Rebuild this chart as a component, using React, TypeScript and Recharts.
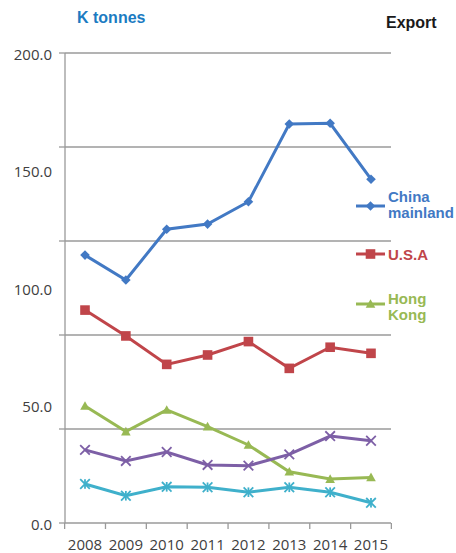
import { CartesianGrid, Legend, Line, LineChart, XAxis, YAxis } from "recharts";

const years = ["2008", "2009", "2010", "2011", "2012", "2013", "2014", "2015"];
const chinaMainland = [114.0, 103.4, 125.0, 127.2, 136.7, 169.8, 170.1, 146.3];
const usa = [90.6, 79.6, 67.5, 71.5, 77.2, 65.8, 74.8, 72.2];
const hongKong = [49.8, 38.9, 48.1, 41.0, 33.2, 21.8, 18.7, 19.4];
const seriesD = [31.1, 26.4, 30.2, 24.7, 24.4, 29.2, 37.0, 35.0];
const seriesE = [16.6, 11.6, 15.4, 15.2, 13.1, 15.2, 13.1, 8.6];

const labelTicks = [0, 50, 100, 150, 200];
const gridTicks = [0, 40, 80, 120, 160, 200];
const legendNames = ["China mainland", "U.S.A", "Hong Kong"];

const data = years.map((year, i) => ({
  year,
  china: chinaMainland[i],
  usa: usa[i],
  hk: hongKong[i],
  d: seriesD[i],
  e: seriesE[i],
}));

const W = 456;
const H = 553;
const PLOT_LEFT = 65;
const PLOT_RIGHT = 391;
const HALF_BAND = (PLOT_RIGHT - PLOT_LEFT) / years.length / 2;
const AXIS_GRAY = "#9a9a9a";
const TICK_FONT = "'Open Sans', sans-serif";
const BOLD_FONT = "'Liberation Sans', Arial, sans-serif";

const colors = {
  china: "#4279c4",
  usa: "#c0454a",
  hk: "#98b954",
  d: "#7d5fa6",
  e: "#3fb0cb",
};

type Kind = "diamond" | "square" | "triangle" | "x" | "star";

function Marker({ kind, cx, cy, color }: { kind: Kind; cx: number; cy: number; color: string }) {
  if (cx == null || cy == null) return null;
  const s = 4.8;
  if (kind === "diamond")
    return <polygon points={`${cx},${cy - s} ${cx + s},${cy} ${cx},${cy + s} ${cx - s},${cy}`} fill={color} />;
  if (kind === "square") return <rect x={cx - s} y={cy - s} width={s * 2} height={s * 2} fill={color} />;
  if (kind === "triangle")
    return <polygon points={`${cx},${cy - s} ${cx + s},${cy + s * 0.8} ${cx - s},${cy + s * 0.8}`} fill={color} />;
  return (
    <g stroke={color} strokeWidth={1.8}>
      <line x1={cx - s} y1={cy - s} x2={cx + s} y2={cy + s} />
      <line x1={cx - s} y1={cy + s} x2={cx + s} y2={cy - s} />
      {kind === "star" && <line x1={cx} y1={cy - s} x2={cx} y2={cy + s} />}
    </g>
  );
}

const dotFor = (kind: Kind, color: string) => (p: any) =>
  <Marker key={`${kind}-${p.index}`} kind={kind} cx={p.cx} cy={p.cy} color={color} />;

const YTick = (props: any) => {
  const { x, y, payload } = props;
  const v = payload.value;
  return (
    <g>
      {gridTicks.includes(v) && <line x1={x + 7} x2={x + 13} y1={y} y2={y} stroke={AXIS_GRAY} strokeWidth={1.3} />}
      {labelTicks.includes(v) && (
        <text x={x} y={y} dy={6.5} textAnchor="end" fontSize={15} fontFamily={TICK_FONT} fill="#404040">
          {v.toFixed(1)}
        </text>
      )}
    </g>
  );
};

const XTick = (props: any) => {
  const { x, y, payload, index } = props;
  const top = y - 10;
  return (
    <g>
      <line x1={x - HALF_BAND} x2={x - HALF_BAND} y1={top} y2={top + 6} stroke={AXIS_GRAY} strokeWidth={1.3} />
      {index === years.length - 1 && (
        <line x1={x + HALF_BAND} x2={x + HALF_BAND} y1={top} y2={top + 6} stroke={AXIS_GRAY} strokeWidth={1.3} />
      )}
      <text x={x} y={y + 17} textAnchor="middle" fontSize={15} fontFamily={TICK_FONT} fill="#404040">
        {payload.value}
      </text>
    </g>
  );
};

const legendKinds: Kind[] = ["diamond", "square", "triangle"];
const legendLineY = [21, 69, 119];
const legendTextY = [17, 75, 118.5];

const LegendBox = ({ payload }: any) => (
  <svg width={106} height={150} style={{ overflow: "visible" }}>
    {legendNames.map((name, i) => {
      const item = (payload || []).find((p: any) => p.value === name);
      if (!item) return null;
      const words = name.split(" ");
      return (
        <g key={name}>
          <line x1={6} x2={35} y1={legendLineY[i]} y2={legendLineY[i]} stroke={item.color} strokeWidth={3} />
          <Marker kind={legendKinds[i]} cx={20.5} cy={legendLineY[i]} color={item.color} />
          {words.map((w, j) => (
            <text
              key={w}
              x={38}
              y={legendTextY[i] + j * 16}
              fontSize={15}
              fontWeight="bold"
              fontFamily={BOLD_FONT}
              fill={item.color}
            >
              {w}
            </text>
          ))}
        </g>
      );
    })}
  </svg>
);

export default function App() {
  return (
    <div style={{ position: "absolute", left: 0, top: 0, width: W, height: H, background: "#fff" }}>
      <svg width={W} height={60} style={{ position: "absolute", left: 0, top: 0 }}>
        <text x={77} y={23} fontSize={16} fontWeight="bold" fontFamily={BOLD_FONT} fill="#1b7bc2">
          K tonnes
        </text>
        <text x={386} y={28} fontSize={16} fontWeight="bold" fontFamily={BOLD_FONT} fill="#1a1a1a">
          Export
        </text>
      </svg>
      <LineChart
        width={W}
        height={H}
        data={data}
        margin={{ top: 53, right: W - PLOT_RIGHT, bottom: 0, left: 1 }}
        style={{ position: "absolute", left: 0, top: 0 }}
      >
        <CartesianGrid vertical={false} horizontalValues={[40, 80, 120, 160, 200]} stroke={AXIS_GRAY} strokeWidth={1.3} />
        <XAxis
          dataKey="year"
          height={30}
          padding={{ left: 20, right: 20 }}
          interval={0}
          tickLine={false}
          tickSize={6}
          tickMargin={4}
          tick={XTick}
          axisLine={{ stroke: AXIS_GRAY, strokeWidth: 1.3 }}
        />
        <YAxis
          type="number"
          domain={[0, 200]}
          ticks={[0, 40, 50, 80, 100, 120, 150, 160, 200]}
          interval={0}
          width={64}
          tickLine={false}
          tickSize={6}
          tickMargin={7}
          tick={YTick}
          axisLine={{ stroke: AXIS_GRAY, strokeWidth: 1.3 }}
        />
        <Legend
          layout="vertical"
          align="center"
          verticalAlign="middle"
          content={<LegendBox />}
          wrapperStyle={{ left: 350, top: 185, width: 106, height: 150 }}
        />
        <Line name="China mainland" dataKey="china" stroke={colors.china} strokeWidth={3} dot={dotFor("diamond", colors.china)} isAnimationActive={false} />
        <Line name="U.S.A" dataKey="usa" stroke={colors.usa} strokeWidth={3} dot={dotFor("square", colors.usa)} isAnimationActive={false} />
        <Line name="Hong Kong" dataKey="hk" stroke={colors.hk} strokeWidth={3} dot={dotFor("triangle", colors.hk)} isAnimationActive={false} />
        <Line name="d" dataKey="d" legendType="none" stroke={colors.d} strokeWidth={3} dot={dotFor("x", colors.d)} isAnimationActive={false} />
        <Line name="e" dataKey="e" legendType="none" stroke={colors.e} strokeWidth={3} dot={dotFor("star", colors.e)} isAnimationActive={false} />
      </LineChart>
    </div>
  );
}
